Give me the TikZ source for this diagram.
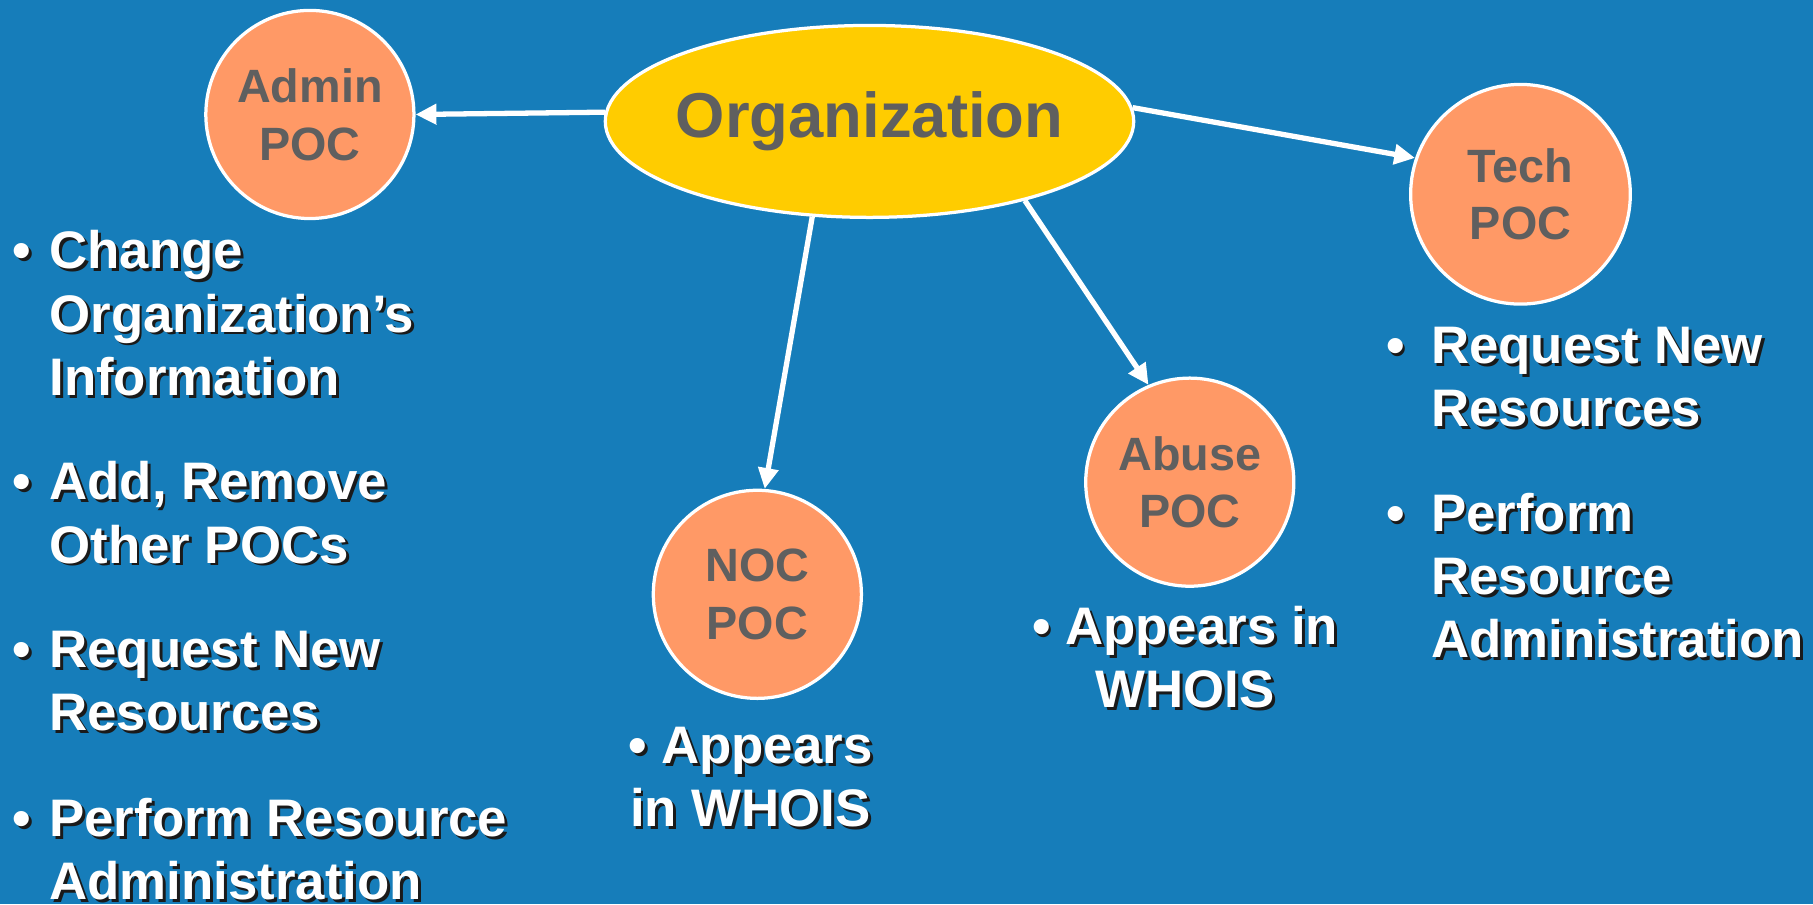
\documentclass[tikz,border=0pt]{standalone}
\usepackage{fontspec}
\setmainfont{Liberation Sans}
\usepackage{xcolor}
\usepackage{tikz}
\usetikzlibrary{shapes.geometric, arrows.meta, positioning}

\definecolor{slideblue}{HTML}{167DBA}
\definecolor{orgyellow}{HTML}{FFCC00}
\definecolor{pocorange}{HTML}{FF9966}
\definecolor{labelgray}{HTML}{5F5F5F}
\definecolor{shadowgray}{HTML}{1A1A1A}

% white text with a dark drop shadow (base = last line)
\newcommand{\shadownode}[4][]{%
    \node [item, #1, text=shadowgray] (#2-sh) at ([shift={(0.025,-0.025)}]#3) {#4};
    \node [item, #1] (#2) at (#3) {#4};}

\begin{document}
\begin{tikzpicture} [
    poc/.style = {circle, fill=pocorange, draw=white, line width=0.8pt,
        minimum size=1.8cm, inner sep=0pt, align=center, text=labelgray,
        font=\fontsize{11.5}{14.2}\selectfont\bfseries},
    item/.style = {text=white, inner sep=0pt, anchor=base west, align=left,
        font=\fontsize{13}{15.6}\selectfont\bfseries},
    link/.style = {-{Triangle[length=0.18cm, width=0.17cm]}, white, line width=1.3pt}]

        \fill [slideblue] (0,0) rectangle (15.68,-7.82);

        \node (org) [ellipse, fill=orgyellow, draw=white, line width=0.8pt,
        minimum width=4.57cm, minimum height=1.66cm, inner sep=0pt, text=labelgray,
        font=\fontsize{15.6}{18}\selectfont\bfseries] at (7.52,-1.05) {\makebox[0pt]{Organization}};
        \node (admin) [poc] at (2.68,-0.99) {Admin\\POC};
        \node (tech) [poc, minimum size=1.9cm] at (13.15,-1.68) {Tech\\POC};
        \node (abuse) [poc] at (10.29,-4.17) {Abuse\\POC};
        \node (noc) [poc] at (6.55,-5.14) {NOC\\POC};

        \path [link]
            (org.178) edge (admin.0)
            (org.3) edge (tech.161)
            (org.239) edge (noc.86)
            (org.333) edge (abuse.113);

        \shadownode{adm1}{0.42,-3.42}{\llap{\textbullet\hspace{0.16cm}}Change\\Organization’s\\Information}
        \shadownode{adm2}{0.42,-4.87}{\llap{\textbullet\hspace{0.16cm}}Add, Remove\\Other POCs}
        \shadownode{adm3}{0.42,-6.32}{\llap{\textbullet\hspace{0.16cm}}Request New\\Resources}
        \shadownode{adm4}{0.42,-7.78}{\llap{\textbullet\hspace{0.16cm}}Perform Resource\\Administration}
        \shadownode{tech1}{12.37,-3.69}{\llap{\textbullet\hspace{0.23cm}}Request New\\Resources}
        \shadownode{tech2}{12.37,-5.69}{\llap{\textbullet\hspace{0.23cm}}Perform\\Resource\\Administration}
        \shadownode[anchor=base, align=center]{abu1}{10.25,-6.12}{\textbullet{} Appears in\\WHOIS}
        \shadownode[anchor=base, align=center]{noc1}{6.49,-7.15}{\textbullet{} Appears\\in WHOIS}

    \end{tikzpicture}
\end{document}
